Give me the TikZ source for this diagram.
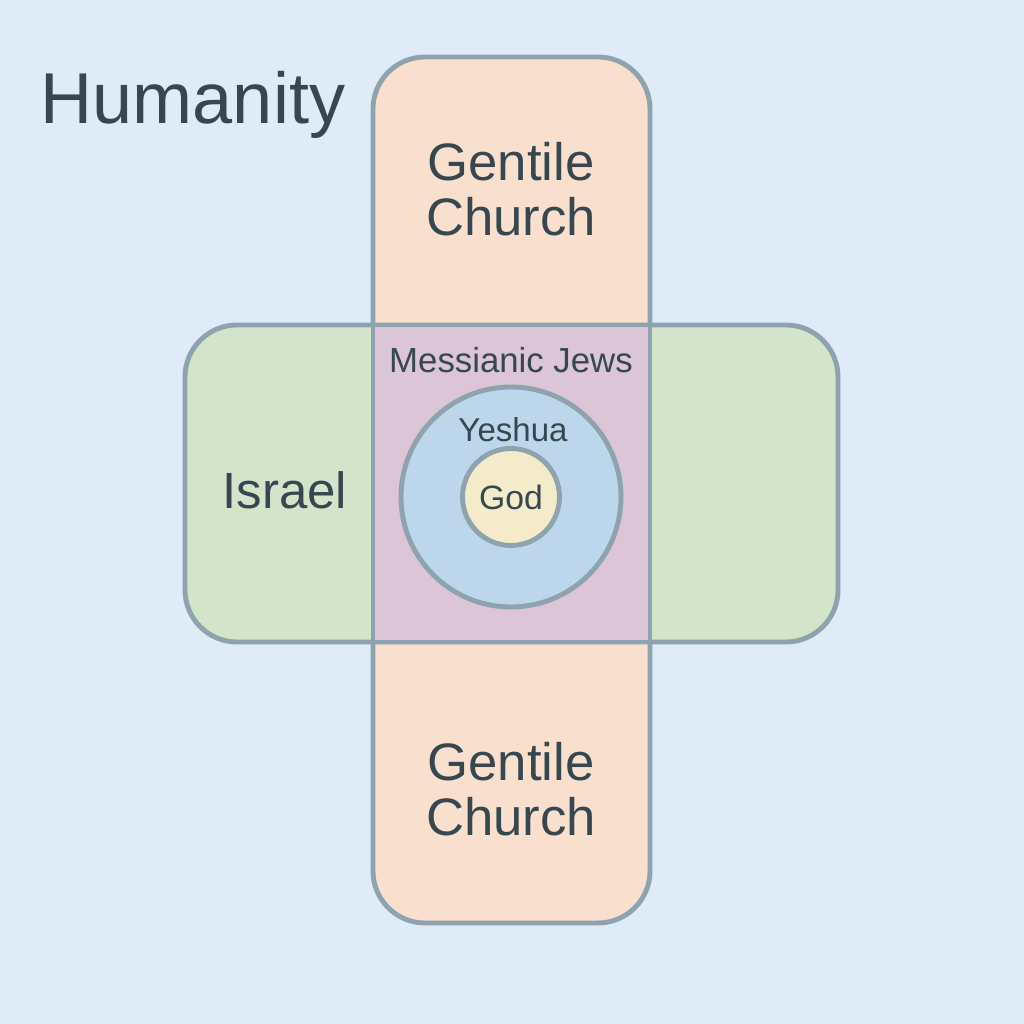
\documentclass[tikz,border=0pt]{standalone}
\usepackage{fontspec}
\setmainfont{Liberation Sans}
\usetikzlibrary{positioning,backgrounds,calc}
\definecolor{bgblue}{HTML}{DFEBF7}
\definecolor{edgegray}{HTML}{8FA3AF}
\definecolor{peach}{HTML}{F9E0CE}
\definecolor{sage}{HTML}{D4E4CA}
\definecolor{mauve}{HTML}{DCC5D7}
\definecolor{skyblue}{HTML}{BCD7EB}
\definecolor{cream}{HTML}{F3EBC9}
\definecolor{slate}{HTML}{37474F}
\begin{document}
\begin{tikzpicture}[
  region/.style={draw=edgegray, line width=1.4pt, inner sep=0pt},
  bar/.style={region, rounded corners=0.52cm},
  lbl/.style={text=slate, align=center, inner sep=0pt}
]
% Background
\fill[bgblue] (0,0) rectangle (10.24,10.24);
\useasboundingbox (0,0) rectangle (10.24,10.24);

% Cross bars
\node[bar, fill=peach, minimum width=2.77cm, minimum height=8.66cm] (gentiles) at (5.115,5.34) {};
\node[bar, fill=sage, minimum width=6.53cm, minimum height=3.17cm] (israelbar) at (5.115,5.405) {};
\node[region, fill=mauve, minimum width=2.77cm, minimum height=3.17cm] (messianic) at (5.115,5.405) {};

% Circles
\node[region, circle, fill=skyblue, minimum size=2.2cm] (yeshuacirc) at (5.11,5.27) {};
\node[region, circle, fill=cream, minimum size=0.97cm] (godcirc) at (yeshuacirc.center) {};

% Labels
\node[lbl, font=\fontsize{20.5}{24}\selectfont] (humanity) at (1.93,9.19) {Humanity};
\node[lbl, font=\fontsize{15}{15.6}\selectfont] (gentiletop) at (5.11,8.35) {Gentile\\Church};
\node[lbl, font=\fontsize{15}{15.6}\selectfont] (gentilebot) at (5.11,2.35) {Gentile\\Church};
\node[lbl, font=\fontsize{14.5}{17}\selectfont] (israel) at (2.85,5.34) {Israel};
\node[lbl, font=\fontsize{9.9}{12}\selectfont] (messianiclbl) at (5.11,6.64) {Messianic Jews};
\node[lbl, font=\fontsize{9.4}{11}\selectfont] (yeshua) at (5.13,5.94) {Yeshua};
\node[lbl, font=\fontsize{9.6}{11}\selectfont] (god) at (godcirc.center) {God};

\end{tikzpicture}
\end{document}
